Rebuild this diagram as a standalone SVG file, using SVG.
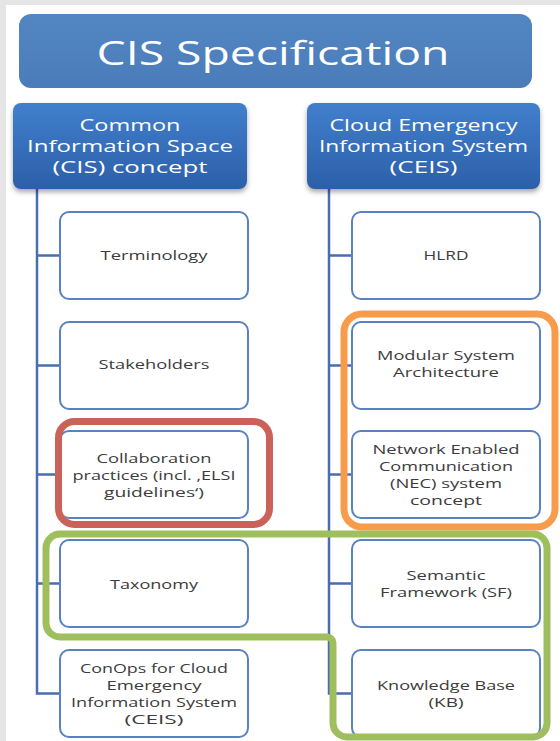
<svg xmlns="http://www.w3.org/2000/svg" width="560" height="741" viewBox="0 0 560 741">
  <defs>
    <linearGradient id="titleFill" x1="0" y1="0" x2="0" y2="1">
      <stop offset="0" stop-color="#5286c3"/>
      <stop offset="1" stop-color="#4a7cb9"/>
    </linearGradient>
    <linearGradient id="headFill" x1="0" y1="0" x2="0" y2="1">
      <stop offset="0" stop-color="#417fcc"/>
      <stop offset="1" stop-color="#2c5fa9"/>
    </linearGradient>
    <filter id="shadow" x="-10%" y="-10%" width="120%" height="130%">
      <feDropShadow dx="0" dy="3" stdDeviation="2.5" flood-color="#000" flood-opacity="0.35"/>
    </filter>
    <style>
      .title { font-family: "Open Sans", "Liberation Sans", sans-serif; font-size: 32px; fill: #ffffff; text-anchor: middle; }
      .head { font-family: "Open Sans", "Liberation Sans", sans-serif; font-size: 17px; fill: #ffffff; text-anchor: middle; }
      .lbl { font-family: "Open Sans", "Liberation Sans", sans-serif; font-size: 13.5px; fill: #3c3c3c; text-anchor: middle; }
      .box { fill: #ffffff; stroke: #5a82c0; stroke-width: 2; }
      .link { fill: none; stroke: #4a6cb0; stroke-width: 2.5; }
      .mark { fill: none; stroke-width: 7; stroke-linejoin: round; }
    </style>
  </defs>

  <!-- page -->
  <rect x="0" y="0" width="560" height="741" fill="#e5e5e5"/>
  <rect x="6" y="5" width="554" height="736" fill="#ffffff"/>

  <!-- connectors -->
  <g id="connectors" class="link">
    <path d="M37 189 V693.5 H60 M37 255.5 H60 M37 365.5 H60 M37 474.5 H60 M37 583.5 H60"/>
    <path d="M329 189 V693.5 H352 M329 255.5 H352 M329 365.5 H352 M329 474.5 H352 M329 583.5 H352"/>
  </g>

  <!-- title -->
  <g id="title">
    <rect x="19" y="14" width="513" height="74" rx="12" fill="url(#titleFill)"/>
    <text class="title" x="273" y="65" textLength="353" lengthAdjust="spacingAndGlyphs">CIS Specification</text>
  </g>

  <!-- column headers -->
  <g id="cis-concept">
    <rect x="13" y="103" width="234" height="86" rx="8" fill="url(#headFill)" filter="url(#shadow)"/>
    <text class="head" x="130" y="131" textLength="101" lengthAdjust="spacingAndGlyphs">Common</text>
    <text class="head" x="130" y="152" textLength="206" lengthAdjust="spacingAndGlyphs">Information Space</text>
    <text class="head" x="130" y="173" textLength="155" lengthAdjust="spacingAndGlyphs">(CIS) concept</text>
  </g>
  <g id="ceis">
    <rect x="307" y="103" width="233" height="86" rx="8" fill="url(#headFill)" filter="url(#shadow)"/>
    <text class="head" x="423.5" y="131" textLength="188" lengthAdjust="spacingAndGlyphs">Cloud Emergency</text>
    <text class="head" x="423.5" y="152" textLength="209" lengthAdjust="spacingAndGlyphs">Information System</text>
    <text class="head" x="423.5" y="173" textLength="68" lengthAdjust="spacingAndGlyphs">(CEIS)</text>
  </g>

  <!-- left column -->
  <g id="terminology">
    <rect class="box" x="60" y="212" width="188" height="87" rx="9"/>
    <text class="lbl" x="154" y="260" textLength="107" lengthAdjust="spacingAndGlyphs">Terminology</text>
  </g>
  <g id="stakeholders">
    <rect class="box" x="60" y="322" width="188" height="87" rx="9"/>
    <text class="lbl" x="154" y="369" textLength="111" lengthAdjust="spacingAndGlyphs">Stakeholders</text>
  </g>
  <g id="collaboration">
    <rect class="box" x="60" y="431" width="188" height="87" rx="9"/>
    <text class="lbl" x="154" y="463" textLength="115" lengthAdjust="spacingAndGlyphs">Collaboration</text>
    <text class="lbl" x="154" y="480" textLength="163" lengthAdjust="spacingAndGlyphs">practices (incl. ‚ELSI</text>
    <text class="lbl" x="154" y="497" textLength="100" lengthAdjust="spacingAndGlyphs">guidelines‘)</text>
  </g>
  <g id="taxonomy">
    <rect class="box" x="60" y="540" width="188" height="87" rx="9"/>
    <text class="lbl" x="154" y="589" textLength="88" lengthAdjust="spacingAndGlyphs">Taxonomy</text>
  </g>
  <g id="conops">
    <rect class="box" x="60" y="650" width="188" height="87" rx="9"/>
    <text class="lbl" x="154" y="673" textLength="148" lengthAdjust="spacingAndGlyphs">ConOps for Cloud</text>
    <text class="lbl" x="154" y="690" textLength="95" lengthAdjust="spacingAndGlyphs">Emergency</text>
    <text class="lbl" x="154" y="707" textLength="166" lengthAdjust="spacingAndGlyphs">Information System</text>
    <text class="lbl" x="154" y="724" textLength="59" lengthAdjust="spacingAndGlyphs">(CEIS)</text>
  </g>

  <!-- right column -->
  <g id="hlrd">
    <rect class="box" x="352" y="212" width="188" height="87" rx="9"/>
    <text class="lbl" x="446" y="260" textLength="45" lengthAdjust="spacingAndGlyphs">HLRD</text>
  </g>
  <g id="modular-architecture">
    <rect class="box" x="352" y="322" width="188" height="87" rx="9"/>
    <text class="lbl" x="446" y="360" textLength="138" lengthAdjust="spacingAndGlyphs">Modular System</text>
    <text class="lbl" x="446" y="377" textLength="106" lengthAdjust="spacingAndGlyphs">Architecture</text>
  </g>
  <g id="nec">
    <rect class="box" x="352" y="431" width="188" height="87" rx="9"/>
    <text class="lbl" x="446" y="454" textLength="147" lengthAdjust="spacingAndGlyphs">Network Enabled</text>
    <text class="lbl" x="446" y="471" textLength="134" lengthAdjust="spacingAndGlyphs">Communication</text>
    <text class="lbl" x="446" y="488" textLength="112" lengthAdjust="spacingAndGlyphs">(NEC) system</text>
    <text class="lbl" x="446" y="505" textLength="72" lengthAdjust="spacingAndGlyphs">concept</text>
  </g>
  <g id="semantic-framework">
    <rect class="box" x="352" y="540" width="188" height="87" rx="9"/>
    <text class="lbl" x="446" y="580" textLength="79" lengthAdjust="spacingAndGlyphs">Semantic</text>
    <text class="lbl" x="446" y="597" textLength="132" lengthAdjust="spacingAndGlyphs">Framework (SF)</text>
  </g>
  <g id="knowledge-base">
    <rect class="box" x="352" y="650" width="188" height="87" rx="9"/>
    <text class="lbl" x="446" y="690" textLength="138" lengthAdjust="spacingAndGlyphs">Knowledge Base</text>
    <text class="lbl" x="446" y="707" textLength="35" lengthAdjust="spacingAndGlyphs">(KB)</text>
  </g>

  <!-- highlight outlines -->
  <g id="highlights">
    <rect class="mark" x="58.5" y="421.5" width="211" height="103" rx="16" stroke="#cb625a"/>
    <rect class="mark" x="344" y="314" width="211" height="213" rx="18" stroke="#f89c4c" stroke-width="8"/>
    <path class="mark" stroke="#9fbf5f" d="M46 548 A14 14 0 0 1 60 534 H533 A14 14 0 0 1 547 548 V723 A14 14 0 0 1 533 737 H347 A14 14 0 0 1 333 723 V643 A6 6 0 0 0 327 637 H60 A14 14 0 0 1 46 623 Z"/>
  </g>
</svg>
